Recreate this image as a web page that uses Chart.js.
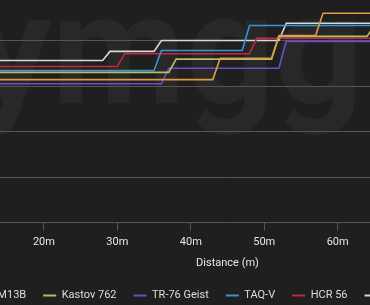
<!DOCTYPE html>
<html>
<head>
<meta charset="utf-8">
<script src="https://cdn.jsdelivr.net/npm/chart.js@4/dist/chart.umd.min.js"></script>
<style>
  html, body { margin: 0; padding: 0; }
  body { width: 370px; height: 305px; overflow: hidden; background: #1f1f1f; position: relative; }
  #mark { position: absolute; left: -106px; top: -41px; font: bold 155px Roboto; line-height: normal; color: #282828; white-space: nowrap; }
  #my-chart { position: absolute; left: -134px; top: -15px; }
</style>
</head>
<body>
<div id="mark">symgg</div>
<canvas id="my-chart" width="708" height="326"></canvas>
<script>
// time to kill (ms) by distance (m), breakpoints only
const m13bRange = [0, 43, 44, 51, 52, 57, 58, 90];
const m13bTtk   = [314, 314, 361, 361, 411, 411, 460, 460];

const kastovRange = [0, 37, 38, 51, 52, 64, 65, 90];
const kastovTtk   = [330, 330, 359, 359, 409, 409, 433, 433];

const geistRange = [0, 36, 37, 52, 53, 90];
const geistTtk   = [305, 305, 339, 339, 398, 398];

const taqvRange = [0, 35, 36, 47, 48, 90];
const taqvTtk   = [334, 334, 378, 378, 433, 433];

const hcrRange = [0, 30, 31, 48, 49, 90];
const hcrTtk   = [343, 343, 371, 371, 405, 405];

const lachRange = [0, 28, 29, 35, 36, 52, 53, 90];
const lachTtk   = [356, 356, 376, 376, 400, 400, 438, 438];

const weaponNames = ['M13B', 'Kastov 762', 'TR-76 Geist', 'TAQ-V', 'HCR 56', 'Lachmann-762'];
const weaponColors = ['#dc9d42', '#b8bd6c', '#684fc6', '#3597cc', '#c92442', '#d8d8d8'];
const ranges = [m13bRange, kastovRange, geistRange, taqvRange, hcrRange, lachRange];
const ttks = [m13bTtk, kastovTtk, geistTtk, taqvTtk, hcrTtk, lachTtk];

Chart.defaults.font.family = 'Roboto';
Chart.defaults.font.size = 11;
Chart.defaults.color = '#e0e0e0';

const datasets = weaponNames.map((name, i) => ({
    label: name,
    data: ranges[i].map((d, j) => ({ x: d, y: ttks[i][j] })),
    borderColor: weaponColors[i],
    backgroundColor: weaponColors[i],
    borderWidth: 1.6,
    pointRadius: 0,
    tension: 0
}));

const ctx = document.getElementById('my-chart').getContext('2d');
const chart = new Chart(ctx, {
    type: 'line',
    data: { datasets: datasets },
    options: {
        responsive: false,
        animation: false,
        layout: { padding: { left: 10, right: 15, top: 10, bottom: 0 } },
        plugins: {
            tooltip: { enabled: false },
            legend: {
                position: 'bottom',
                labels: {
                    boxWidth: 13,
                    boxHeight: 2,
                    padding: 17,
                    color: '#dedede',
                    generateLabels: c => Chart.defaults.plugins.legend.labels.generateLabels(c)
                        .map(l => ({ ...l, lineWidth: 0 }))
                }
            }
        },
        scales: {
            x: {
                type: 'linear',
                min: 0,
                max: 90,
                ticks: { stepSize: 10, padding: 5, color: '#e6e6e6', callback: v => v + 'm' },
                grid: { drawOnChartArea: false, drawTicks: true, tickLength: 8, color: '#555' },
                border: { display: true, color: '#555' },
                title: { display: true, text: 'Distance (m)', color: '#e6e6e6', padding: { top: 3, bottom: 3.1 } }
            },
            y: {
                min: 0,
                max: 500,
                ticks: { display: false, stepSize: 100 },
                grid: { color: '#555', drawTicks: false },
                border: { display: false },
                afterFit: s => { s.width = 21; }
            }
        }
    }
});
</script>
</body>
</html>
